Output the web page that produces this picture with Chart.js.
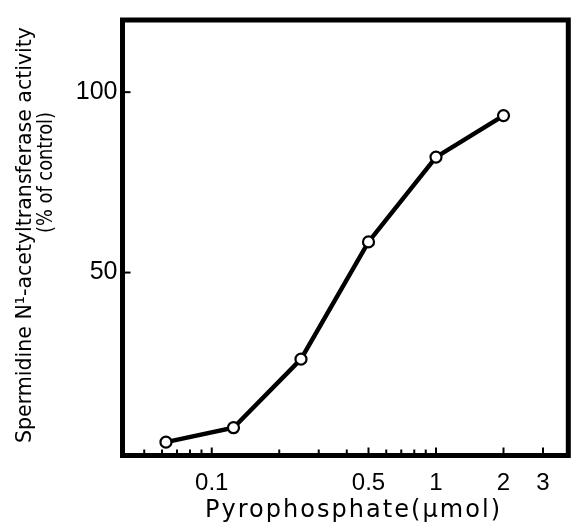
<!DOCTYPE html>
<html><head><meta charset="utf-8">
<script src="https://cdn.jsdelivr.net/npm/chart.js@4.4.1/dist/chart.umd.min.js"></script>
<style>html,body{margin:0;padding:0;background:#fff;} canvas{display:block;}</style>
</head><body>
<canvas id="c" width="576" height="525"></canvas>
<script>
// ---- data ----
const doses = [0.0625, 0.125, 0.25, 0.5, 1, 2];            // Pyrophosphate (µmol)
const activity = [3, 7, 26, 58.5, 82, 93.5];               // % of control
const xTickValues = [0.05, 0.06, 0.07, 0.08, 0.09, 0.1, 0.2, 0.3, 0.4, 0.5, 0.6, 0.7, 0.8, 0.9, 1, 2, 3];
const xLabelValues = [0.1, 0.5, 1, 2, 3];
const xLabelTexts = ['0.1', '0.5', '1', '2', '3'];
const yTickValues = [50, 100];
const yTickTexts = ['50', '100'];
const xTitle = 'Pyrophosphate(μmol)';
const yTitleLines = ['Spermidine N¹-acetyltransferase activity', '(% of control)'];

function labelFor(values, texts, v) {
  const i = values.findIndex(u => Math.abs(u - v) < 1e-9);
  return i >= 0 ? texts[i] : '';
}

// letter-spaced text fitted to a width
function drawSpaced(ctx, text, cx, cy, target, rot) {
  ctx.save();
  ctx.translate(cx, cy);
  ctx.rotate(rot || 0);
  ctx.letterSpacing = '0px';
  const w = ctx.measureText(text).width;
  const n = Array.from(text).length;
  ctx.letterSpacing = ((target - w) / (n - 1)) + 'px';
  ctx.textAlign = 'left';
  ctx.fillText(text, -target / 2, 0);
  ctx.restore();
}
// horizontally scaled (narrow) text fitted to a width
function drawNarrow(ctx, text, cx, cy, target, rot) {
  ctx.save();
  ctx.translate(cx, cy);
  ctx.rotate(rot || 0);
  ctx.letterSpacing = '0px';
  const w = ctx.measureText(text).width;
  ctx.scale(target / w, 1);
  ctx.textAlign = 'center';
  ctx.fillText(text, 0, 0);
  ctx.restore();
}

const decor = {
  id: 'decor',
  afterDraw(chart) {
    const ctx = chart.ctx;
    const a = chart.chartArea;
    const xs = chart.scales.x, ys = chart.scales.y;
    ctx.save();
    ctx.strokeStyle = '#000';
    ctx.fillStyle = '#000';
    // frame
    ctx.lineWidth = 5;
    ctx.strokeRect(a.left, a.top, a.right - a.left, a.bottom - a.top);
    // inward x ticks
    ctx.lineWidth = 2;
    xTickValues.forEach(v => {
      const px = xs.getPixelForValue(v);
      const len = labelFor(xLabelValues, xLabelTexts, v) ? 8 : 6;
      ctx.beginPath();
      ctx.moveTo(px, a.bottom);
      ctx.lineTo(px, a.bottom - len);
      ctx.stroke();
    });
    // inward y ticks
    yTickValues.forEach(v => {
      const py = ys.getPixelForValue(v);
      ctx.beginPath();
      ctx.moveTo(a.left, py);
      ctx.lineTo(a.left + 8, py);
      ctx.stroke();
    });
    // titles
    ctx.textBaseline = 'alphabetic';
    ctx.font = '24px "DejaVu Sans"';
    drawSpaced(ctx, xTitle, 352.5, 517, 295, 0);
    ctx.font = '21px "DejaVu Sans"';
    drawNarrow(ctx, yTitleLines[0], 31, 235, 416, -Math.PI / 2);
    ctx.font = '22px "DejaVu Sans"';
    drawNarrow(ctx, yTitleLines[1], 52, 172.5, 121, -Math.PI / 2);
    ctx.restore();
  }
};

new Chart(document.getElementById('c'), {
  type: 'line',
  data: {
    datasets: [{
      data: doses.map((d, i) => ({ x: d, y: activity[i] })),
      borderColor: '#000',
      borderWidth: 4.5,
      tension: 0,
      pointRadius: 5.5,
      pointBorderWidth: 2.2,
      pointBackgroundColor: '#fff',
      pointBorderColor: '#000',
      fill: false
    }]
  },
  options: {
    responsive: false,
    animation: false,
    layout: { padding: { top: 16.5, right: 2, left: 0, bottom: 0 } },
    plugins: { legend: { display: false }, tooltip: { enabled: false }, title: { display: false } },
    scales: {
      x: {
        type: 'logarithmic',
        min: 0.04,
        max: 3.89,
        grid: { display: false, drawTicks: false },
        border: { display: false },
        afterBuildTicks(scale) { scale.ticks = xTickValues.map(v => ({ value: v })); },
        afterFit(scale) { scale.height = 69.5; },
        ticks: {
          autoSkip: false, maxRotation: 0, minRotation: 0,
          padding: 13,
          color: '#000',
          font: { family: '"Liberation Sans", Arial, sans-serif', size: 24 },
          callback: (v) => labelFor(xLabelValues, xLabelTexts, v)
        }
      },
      y: {
        type: 'linear',
        min: -0.7,
        max: 120,
        grid: { display: false, drawTicks: false },
        border: { display: false },
        afterBuildTicks(scale) { scale.ticks = yTickValues.map(v => ({ value: v })); },
        afterFit(scale) { scale.width = 122.5; },
        ticks: {
          padding: 5,
          color: '#000',
          font: { family: '"Liberation Sans", Arial, sans-serif', size: 25 },
          callback: (v) => labelFor(yTickValues, yTickTexts, v)
        }
      }
    }
  },
  plugins: [decor]
});
</script>
</body></html>
